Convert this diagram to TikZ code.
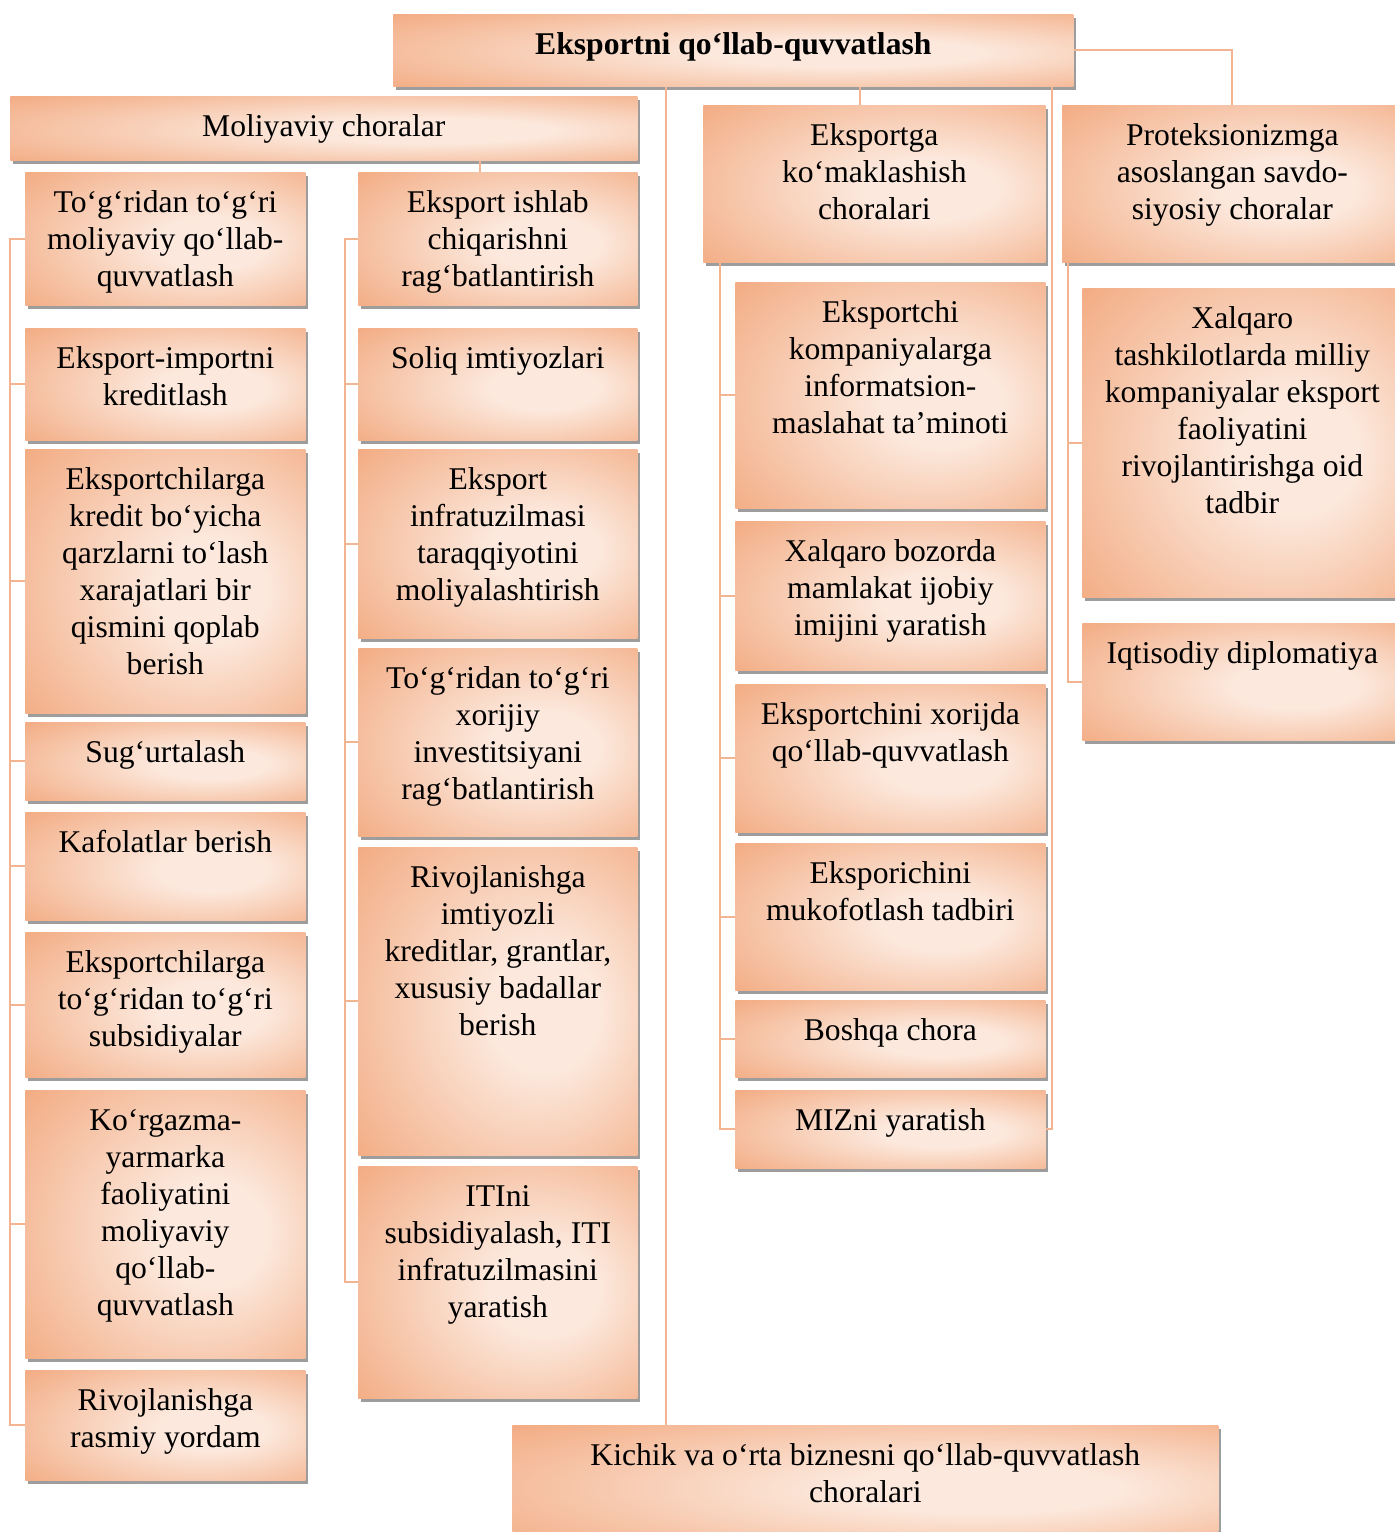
\documentclass[tikz,border=0pt]{standalone}
\usepackage{fontspec}
\setmainfont{Liberation Serif}
\usetikzlibrary{shadows}

\definecolor{boxdark}{RGB}{240,156,108}
\definecolor{boxlight}{RGB}{252,232,220}
\definecolor{linkc}{RGB}{243,180,145}

\pgfdeclareradialshading{boxglow}{\pgfpoint{10bp}{-2bp}}{color(0bp)=(boxlight); color(10bp)=(boxlight); color(46bp)=(boxdark); color(60bp)=(boxdark)}

\begin{document}
\begin{tikzpicture}[x=0.02cm, y=-0.02cm,
  box/.style 2 args={anchor=north west, inner sep=0pt, shade, shading=boxglow,
    drop shadow={shadow xshift=1.6pt, shadow yshift=-2pt, fill=black!55, opacity=0.7},
    font=\fontsize{18}{21}\selectfont,
    execute at begin node={\pgfmathsetlengthmacro\boxw{#1*0.02cm}\pgfmathsetlengthmacro\boxh{#2*0.02cm}\begin{minipage}[t][\boxh][t]{\boxw}\centering\rule{0pt}{23pt}},
    execute at end node={\end{minipage}}},
  link/.style={draw=linkc, line width=1.2pt}]

\useasboundingbox (0, 0) rectangle (1395, 1532);

\node[box={680}{72}] (top) at (393, 14) {\textbf{Eksportni qo‘llab-quvvatlash}};

\node[box={627}{64}] (fin) at (10, 96) {Moliyaviy choralar};
\node[box={280}{133}] (fin a) at (25, 172) {To‘g‘ridan to‘g‘ri\\ moliyaviy qo‘llab-\\ quvvatlash};
\node[box={280}{112}] (fin b) at (25, 328) {Eksport-importni\\ kreditlash};
\node[box={280}{264}] (fin c) at (25, 449) {Eksportchilarga\\ kredit bo‘yicha\\ qarzlarni to‘lash\\ xarajatlari bir\\ qismini qoplab\\ berish};
\node[box={280}{78}] (fin d) at (25, 722) {Sug‘urtalash};
\node[box={280}{108}] (fin e) at (25, 812) {Kafolatlar berish};
\node[box={280}{145}] (fin f) at (25, 932) {Eksportchilarga\\ to‘g‘ridan to‘g‘ri\\ subsidiyalar};
\node[box={280}{268}] (fin g) at (25, 1090) {Ko‘rgazma-\\ yarmarka\\ faoliyatini\\ moliyaviy\\ qo‘llab-\\ quvvatlash};
\node[box={280}{110}] (fin h) at (25, 1370) {Rivojlanishga\\ rasmiy yordam};

\node[box={279}{133}] (mid a) at (358, 172) {Eksport ishlab\\ chiqarishni\\ rag‘batlantirish};
\node[box={279}{112}] (mid b) at (358, 328) {Soliq imtiyozlari};
\node[box={279}{189}] (mid c) at (358, 449) {Eksport\\ infratuzilmasi\\ taraqqiyotini\\ moliyalashtirish};
\node[box={279}{188}] (mid d) at (358, 648) {To‘g‘ridan to‘g‘ri\\ xorijiy\\ investitsiyani\\ rag‘batlantirish};
\node[box={279}{308}] (mid e) at (358, 847) {Rivojlanishga\\ imtiyozli\\ kreditlar, grantlar,\\ xususiy badallar\\ berish};
\node[box={279}{232}] (mid f) at (358, 1166) {ITIni\\ subsidiyalash, ITI\\ infratuzilmasini\\ yaratish};

\node[box={342}{157}] (promo) at (703, 105) {Eksportga\\ ko‘maklashish\\ choralari};
\node[box={310}{226}] (promo a) at (735, 282) {Eksportchi\\ kompaniyalarga\\ informatsion-\\ maslahat ta’minoti};
\node[box={310}{149}] (promo b) at (735, 521) {Xalqaro bozorda\\ mamlakat ijobiy\\ imijini yaratish};
\node[box={310}{148}] (promo c) at (735, 684) {Eksportchini xorijda\\ qo‘llab-quvvatlash};
\node[box={310}{147}] (promo d) at (735, 843) {Eksporichini\\ mukofotlash tadbiri};
\node[box={310}{77}] (promo e) at (735, 1000) {Boshqa chora};
\node[box={310}{78}] (promo f) at (735, 1090) {MIZni yaratish};

\node[box={340}{157}] (prot) at (1062, 105) {Proteksionizmga\\ asoslangan savdo-\\ siyosiy choralar};
\node[box={320}{309}] (prot a) at (1082, 288) {Xalqaro\\ tashkilotlarda milliy\\ kompaniyalar eksport\\ faoliyatini\\ rivojlantirishga oid\\ tadbir};
\node[box={320}{117}] (prot b) at (1082, 623) {Iqtisodiy diplomatiya};

\node[box={706}{120}] (sme) at (512, 1425) {Kichik va o‘rta biznesni qo‘llab-quvvatlash\\ choralari};

\coordinate (fin spine) at (10, 0);
\coordinate (mid spine) at (345, 0);
\coordinate (promo spine) at (720, 0);
\coordinate (prot spine) at (1068, 0);
\coordinate (side spine) at (1052, 0);
\coordinate (trunk) at (666, 0);
\coordinate (promo drop) at (860, 0);
\coordinate (mid drop) at (480, 0);

\draw[link] (fin a.west) -- (fin a.west -| fin spine) -- (fin h.west -| fin spine) -- (fin h.west);
\foreach \n in {b, c, d, e, f, g} \draw[link] (fin \n.west -| fin spine) -- (fin \n.west);

\draw[link] (mid a.west) -- (mid a.west -| mid spine) -- (mid f.west -| mid spine) -- (mid f.west);
\foreach \n in {b, c, d, e} \draw[link] (mid \n.west -| mid spine) -- (mid \n.west);

\draw[link] (promo.south -| promo spine) -- (promo f.west -| promo spine) -- (promo f.west);
\foreach \n in {a, b, c, d, e} \draw[link] (promo \n.west -| promo spine) -- (promo \n.west);

\draw[link] (prot.south -| prot spine) -- (prot b.west -| prot spine) -- (prot b.west);
\draw[link] (prot a.west -| prot spine) -- (prot a.west);

\draw[link] (top.south -| side spine) -- (promo f.east -| side spine) -- (promo f.east);
\draw[link] (top.south -| trunk) -- (sme.north -| trunk);
\draw[link] (top.south -| promo drop) -- (promo.north -| promo drop);
\draw[link] (top.east) -| (prot.north);
\draw[link] (fin.south -| mid drop) -- (mid a.north -| mid drop);

\end{tikzpicture}
\end{document}
